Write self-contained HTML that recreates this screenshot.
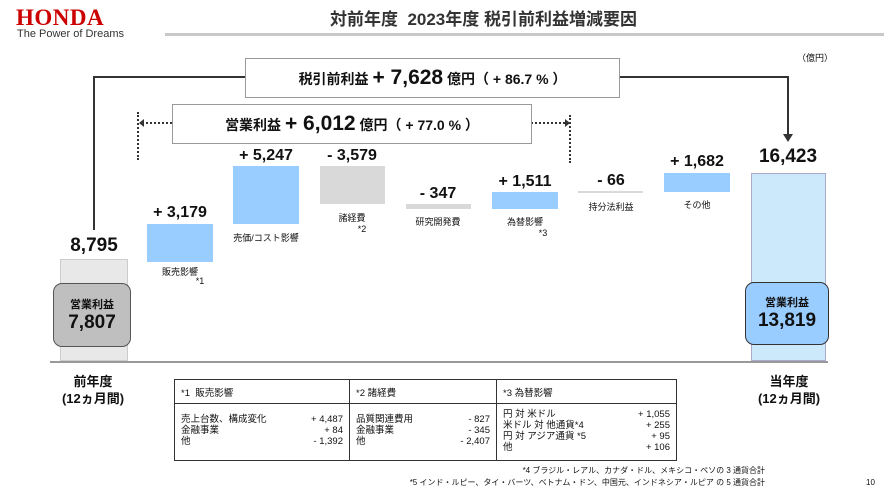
<!DOCTYPE html>
<html><head><meta charset="utf-8"><style>
body{margin:0;width:884px;height:494px;background:#fff;position:relative;overflow:hidden;font-family:"Liberation Sans","Noto Sans CJK JP",sans-serif;color:#111}
.a{position:absolute}
.bar{position:absolute;background:#99ccff}
.g{background:#d9d9d9}
.v{position:absolute;font-weight:bold;font-size:16px;text-align:center;width:100px;white-space:nowrap}
.l{position:absolute;font-size:9px;text-align:center;width:100px;white-space:nowrap}
.box{position:absolute;border:1px solid #999;background:#fff;font-weight:bold;white-space:nowrap;text-align:center}
table{border-collapse:collapse;font-size:9.5px}
td{border:1px solid #333;vertical-align:top;padding:3px 6px}
</style></head><body>
<div class="a" style="left:16px;top:5px;font-family:'Liberation Serif',serif;font-weight:bold;font-size:23px;color:#cc0000;letter-spacing:0.5px">HONDA</div>
<div class="a" style="left:17px;top:28px;font-size:11px;color:#333">The Power of Dreams</div>
<div class="a" style="left:330px;top:5px;font-size:17px;font-weight:bold;color:#333">対前年度&nbsp; 2023年度 税引前利益増減要因</div>
<div class="a" style="left:165px;top:33px;width:719px;height:3px;background:#c8c8c8"></div>
<div class="a" style="left:797px;top:51px;font-size:9px">（億円）</div>

<div class="a" style="left:93px;top:76px;width:152px;height:2px;background:#333"></div>
<div class="a" style="left:93px;top:76px;width:2px;height:154px;background:#333"></div>
<div class="a" style="left:619px;top:76px;width:170px;height:2px;background:#333"></div>
<div class="a" style="left:787px;top:76px;width:2px;height:60px;background:#333"></div>
<div class="a" style="left:783px;top:134px;width:0;height:0;border-left:5px solid transparent;border-right:5px solid transparent;border-top:8px solid #333"></div>
<div class="a" style="left:137px;top:112px;height:48px;border-left:2px dotted #333"></div>
<div class="a" style="left:569px;top:115px;height:48px;border-left:2px dotted #333"></div>
<div class="a" style="left:142px;top:122px;width:30px;border-top:2px dotted #333"></div>
<div class="a" style="left:139px;top:119px;border-top:4px solid transparent;border-bottom:4px solid transparent;border-right:5px solid #333"></div>
<div class="a" style="left:531px;top:122px;width:34px;border-top:2px dotted #333"></div>
<div class="a" style="left:565px;top:119px;border-top:4px solid transparent;border-bottom:4px solid transparent;border-left:5px solid #333"></div>

<div class="box" style="left:245px;top:58px;width:373px;height:38px;line-height:38px;font-size:14px">税引前利益 <span style="font-size:21px">+ 7,628</span> 億円（ + 86.7 % ）</div>
<div class="box" style="left:172px;top:104px;width:358px;height:38px;line-height:38px;font-size:14px">営業利益 <span style="font-size:21px">+ 6,012</span> 億円（ + 77.0 % ）</div>

<div class="a" style="left:50px;top:361px;width:778px;height:2px;background:#999"></div>

<div class="bar g" style="left:60px;top:259px;width:68px;height:102px;background:#e8e8e8;border:1px solid #ccc;box-sizing:border-box"></div>
<div class="v" style="left:44px;top:235px;font-size:19px">8,795</div>
<div class="a" style="left:53px;top:283px;width:78px;height:64px;background:#bfbfbf;border:1px solid #555;border-radius:9px;box-sizing:border-box;text-align:center;font-weight:bold">
<div style="font-size:11px;margin-top:12px">営業利益</div><div style="font-size:19px;line-height:22px">7,807</div></div>

<div class="bar" style="left:147px;top:224px;width:66px;height:38px"></div>
<div class="v" style="left:130px;top:204px">+ 3,179</div>
<div class="l" style="left:130px;top:265px">販売影響</div>
<div class="l" style="left:150px;top:276px">*1</div>

<div class="bar" style="left:233px;top:166px;width:66px;height:58px"></div>
<div class="v" style="left:216px;top:147px">+ 5,247</div>
<div class="l" style="left:216px;top:231px">売価/コスト影響</div>

<div class="bar g" style="left:320px;top:166px;width:65px;height:38px"></div>
<div class="v" style="left:302px;top:147px">- 3,579</div>
<div class="l" style="left:302px;top:211px">諸経費</div>
<div class="l" style="left:312px;top:224px">*2</div>

<div class="bar g" style="left:406px;top:204px;width:65px;height:5px"></div>
<div class="v" style="left:388px;top:185px">- 347</div>
<div class="l" style="left:388px;top:215px">研究開発費</div>

<div class="bar" style="left:492px;top:192px;width:66px;height:17px"></div>
<div class="v" style="left:475px;top:173px">+ 1,511</div>
<div class="l" style="left:475px;top:215px">為替影響</div>
<div class="l" style="left:493px;top:228px">*3</div>

<div class="bar g" style="left:578px;top:191px;width:65px;height:2px"></div>
<div class="v" style="left:561px;top:172px">- 66</div>
<div class="l" style="left:561px;top:200px">持分法利益</div>

<div class="bar" style="left:664px;top:173px;width:66px;height:19px"></div>
<div class="v" style="left:647px;top:153px">+ 1,682</div>
<div class="l" style="left:647px;top:198px">その他</div>

<div class="bar" style="left:751px;top:173px;width:75px;height:188px;background:#cce9fb;border:1px solid #aac;box-sizing:border-box"></div>
<div class="v" style="left:738px;top:146px;font-size:19px">16,423</div>
<div class="a" style="left:745px;top:282px;width:84px;height:63px;background:#99ccff;border:1px solid #333;border-radius:9px;box-sizing:border-box;text-align:center;font-weight:bold">
<div style="font-size:11px;margin-top:11px">営業利益</div><div style="font-size:19px;line-height:22px">13,819</div></div>

<div class="a" style="left:43px;top:373px;width:100px;text-align:center;font-weight:bold;font-size:13px;line-height:17px">前年度<br>(12ヵ月間)</div>
<div class="a" style="left:739px;top:373px;width:100px;text-align:center;font-weight:bold;font-size:13px;line-height:17px">当年度<br>(12ヵ月間)</div>

<table class="a" style="left:174px;top:379px;width:503px">
<tr style="height:24px"><td style="width:162px;vertical-align:middle">*1&nbsp; 販売影響</td><td style="width:134px;vertical-align:middle">*2 諸経費</td><td style="vertical-align:middle">*3 為替影響</td></tr>
<tr style="height:57px">
<td style="padding-top:10px;line-height:11px"><span style="float:right;text-align:right">+ 4,487<br>+ 84<br>- 1,392</span>売上台数、構成変化<br>金融事業<br>他</td>
<td style="padding-top:10px;line-height:11px"><span style="float:right;text-align:right">- 827<br>- 345<br>- 2,407</span>品質関連費用<br>金融事業<br>他</td>
<td style="padding-top:5px;line-height:11px"><span style="float:right;text-align:right">+ 1,055<br>+ 255<br>+ 95<br>+ 106</span>円 対 米ドル<br>米ドル 対 他通貨*4<br>円 対 アジア通貨 *5<br>他</td>
</tr></table>
<div class="a" style="right:119px;top:465px;font-size:8px;text-align:right;line-height:12px">*4 ブラジル・レアル、カナダ・ドル、メキシコ・ペソの 3 通貨合計<br>*5 インド・ルピー、タイ・バーツ、ベトナム・ドン、中国元、インドネシア・ルピア の 5 通貨合計</div>
<div class="a" style="left:866px;top:478px;font-size:8px">10</div>
</body></html>
